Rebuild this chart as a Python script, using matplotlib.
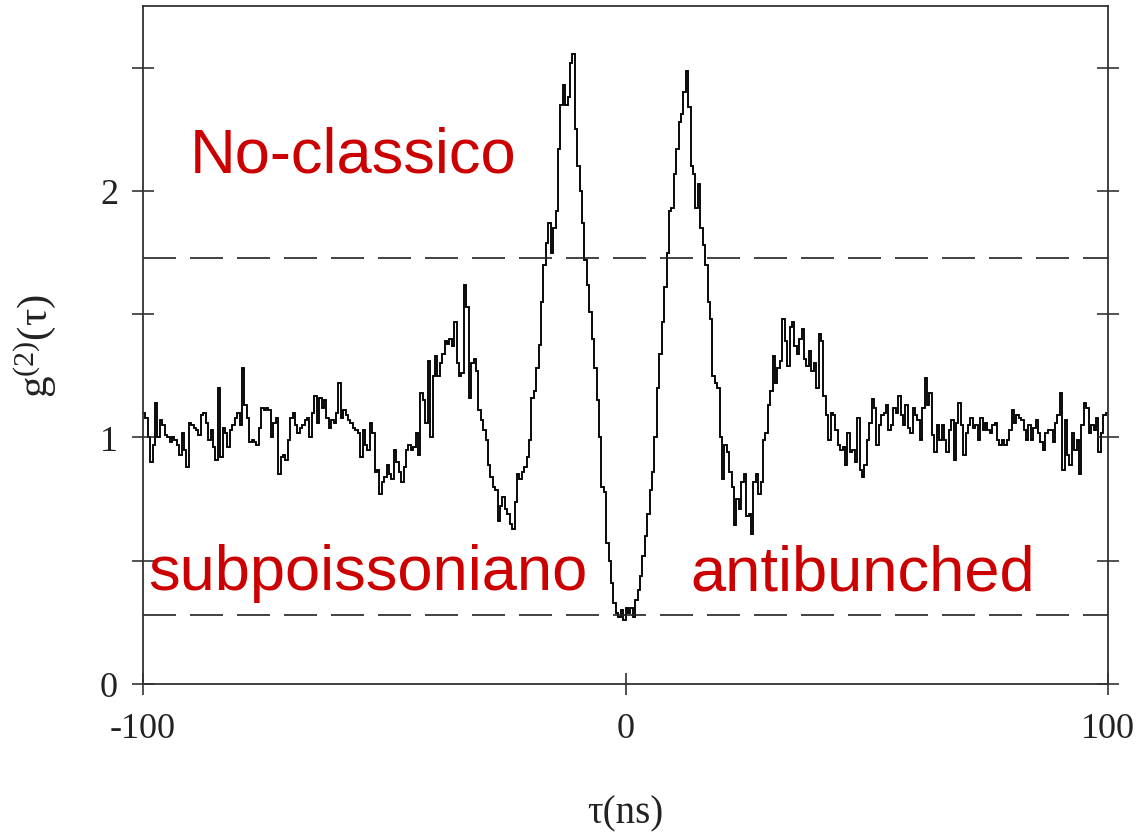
import numpy as np
import matplotlib
matplotlib.use("Agg")
import matplotlib.pyplot as plt
from matplotlib.ticker import MultipleLocator, FixedLocator

# Second-order correlation histogram, 0.5 ns bins from -100 ns to +100 ns
tau_start, tau_stop, bin_width = -100.0, 100.0, 0.5
g2 = [
    1.10, 1.08, 1.00, 0.90, 0.97, 1.14, 1.00, 1.07, 1.05, 1.01,
    1.00, 0.98, 1.00, 0.99, 0.97, 0.93, 1.02, 0.95, 0.88, 1.06,
    1.05, 1.04, 1.03, 1.01, 1.09, 1.10, 1.06, 0.99, 1.03, 0.96,
    0.91, 1.20, 0.92, 1.04, 1.02, 0.96, 1.03, 1.05, 1.08, 1.10,
    1.05, 1.28, 1.13, 1.08, 0.98, 0.99, 0.98, 0.97, 1.04, 1.12,
    1.11, 1.12, 1.11, 1.00, 1.06, 1.08, 0.85, 0.92, 0.93, 0.91,
    0.99, 1.08, 1.10, 1.05, 1.02, 1.04, 1.05, 1.07, 1.08, 1.00,
    1.10, 1.17, 1.06, 1.16, 1.12, 1.15, 1.08, 1.04, 1.07, 1.06,
    1.10, 1.22, 1.08, 1.11, 1.09, 1.07, 1.06, 1.04, 1.03, 1.02,
    0.92, 1.03, 0.97, 0.95, 1.06, 1.02, 0.86, 0.87, 0.77, 0.82,
    0.84, 0.89, 0.85, 0.83, 0.95, 0.90, 0.86, 0.82, 0.88, 0.95,
    0.97, 0.95, 0.96, 1.02, 0.93, 1.18, 1.15, 1.06, 1.31, 1.00,
    1.25, 1.33, 1.25, 1.30, 1.34, 1.39, 1.38, 1.40, 1.37, 1.47,
    1.30, 1.25, 1.26, 1.62, 1.53, 1.16, 1.30, 1.32, 1.27, 1.11,
    1.07, 1.03, 0.99, 0.89, 0.84, 0.80, 0.785, 0.66, 0.72, 0.76,
    0.71, 0.69, 0.65, 0.63, 0.74, 0.85, 0.83, 0.86, 0.88, 0.92,
    0.99, 1.16, 1.19, 1.28, 1.375, 1.55, 1.70, 1.79, 1.87, 1.75,
    1.85, 1.92, 2.17, 2.35, 2.43, 2.35, 2.38, 2.52, 2.555, 2.25,
    2.10, 2.00, 1.87, 1.72, 1.62, 1.51, 1.40, 1.28, 1.15, 1.00,
    0.80, 0.78, 0.57, 0.50, 0.41, 0.33, 0.29, 0.27, 0.30, 0.26,
    0.31, 0.29, 0.31, 0.27, 0.34, 0.38, 0.44, 0.52, 0.60, 0.69,
    0.785, 0.86, 1.00, 1.20, 1.34, 1.47, 1.61, 1.75, 1.92, 1.93,
    2.07, 2.17, 2.28, 2.31, 2.40, 2.485, 2.34, 2.10, 2.07, 1.93,
    2.03, 1.85, 1.78, 1.70, 1.55, 1.48, 1.25, 1.22, 1.20, 1.00,
    0.83, 0.97, 0.94, 0.86, 0.80, 0.645, 0.75, 0.71, 0.82, 0.85,
    0.68, 0.69, 0.61, 0.82, 0.85, 0.77, 0.82, 0.99, 1.02, 1.13,
    1.19, 1.33, 1.22, 1.28, 1.31, 1.48, 1.39, 1.29, 1.45, 1.47,
    1.37, 1.34, 1.40, 1.44, 1.32, 1.29, 1.35, 1.27, 1.30, 1.20,
    1.42, 1.39, 1.17, 1.09, 0.99, 1.10, 1.09, 1.03, 0.97, 0.95,
    0.96, 0.89, 1.02, 0.94, 0.95, 0.90, 1.08, 0.87, 0.84, 0.89,
    0.99, 1.06, 1.156, 1.12, 0.97, 1.05, 1.09, 1.10, 1.13, 1.03,
    1.05, 1.12, 1.10, 1.17, 1.09, 1.05, 1.13, 1.04, 1.02, 1.12,
    1.09, 1.07, 0.99, 1.12, 1.24, 1.13, 1.18, 1.01, 0.94, 1.05,
    0.99, 1.05, 0.99, 0.94, 1.03, 1.07, 0.91, 1.06, 1.14, 1.05,
    0.93, 1.02, 1.05, 1.08, 1.04, 1.05, 0.99, 1.08, 1.03, 1.06,
    1.03, 1.02, 1.05, 1.06, 0.99, 0.97, 0.99, 0.97, 0.99, 1.03,
    1.11, 1.06, 1.09, 1.08, 1.07, 1.03, 0.99, 1.05, 0.99, 1.04,
    1.07, 1.02, 0.98, 0.95, 1.02, 1.03, 1.03, 0.98, 1.06, 1.09,
    1.18, 0.87, 1.07, 0.93, 0.89, 1.02, 0.95, 0.99, 0.85, 1.05,
    1.14, 1.12, 1.02, 1.05, 1.03, 1.08, 0.94, 1.02, 1.09, 1.10,
]

# Reference levels
upper_level = 1.728
lower_level = 0.28

x_ticks = [-100, 0, 100]
x_tick_labels = ["-100", "0", "100"]
y_ticks = [0, 1, 2]
y_tick_labels = ["0", "1", "2"]

region_labels = ["No-classico", "subpoissoniano", "antibunched"]
region_x = [-90.3, -99.0, 13.4]
region_y = [2.08, 0.385, 0.385]

plt.rcParams["axes.unicode_minus"] = False
plt.rcParams["mathtext.fontset"] = "custom"
plt.rcParams["mathtext.rm"] = "Liberation Serif"
plt.rcParams["mathtext.it"] = "Liberation Serif:italic"

W, H = 1139, 837
fig = plt.figure(figsize=(W / 100, H / 100), dpi=100)
ax = fig.add_axes([143 / W, 1 - 685 / H, (1108 - 143) / W, (685 - 7) / H])

edges = np.arange(tau_start, tau_stop + bin_width / 2, bin_width)
ax.stairs(g2, edges, color="black", linewidth=1.35, baseline=None)

dash = (0, (19.8, 8.4))
ax.axhline(upper_level, color="#222222", linewidth=1.2, linestyle=dash)
ax.axhline(lower_level, color="#222222", linewidth=1.2, linestyle=dash)

ax.set_xlim(-100, 100)
ax.set_ylim(0, 2.75)

ax.xaxis.set_major_locator(FixedLocator(x_ticks))
ax.set_xticklabels(x_tick_labels)
ax.yaxis.set_major_locator(FixedLocator(y_ticks))
ax.set_yticklabels(y_tick_labels)
ax.yaxis.set_minor_locator(MultipleLocator(0.5))

serif = "Liberation Serif"
ax.tick_params(axis="both", which="both", direction="inout", length=16,
               width=1.1, color="#222222", labelsize=26, labelcolor="#222222")
ax.tick_params(axis="y", which="both", left=True, right=True, pad=10)
ax.tick_params(axis="x", which="both", bottom=True, top=False, pad=12)
for lab in ax.get_xticklabels() + ax.get_yticklabels():
    lab.set_fontfamily(serif)

for s in ax.spines.values():
    s.set_linewidth(1.3)
    s.set_color("#333333")

ax.set_xlabel("τ(ns)", fontsize=28, family=serif, color="#222222", labelpad=36)
ax.set_ylabel(r"$\mathrm{g^{(2)}(τ)}$", fontsize=31, color="#222222", labelpad=30)

for txt, tx, ty in zip(region_labels, region_x, region_y):
    ax.text(tx, ty, txt, color="#cc0000", fontsize=45.5, family="Liberation Sans",
            ha="left", va="baseline")

fig.savefig("out.png", dpi=100)
